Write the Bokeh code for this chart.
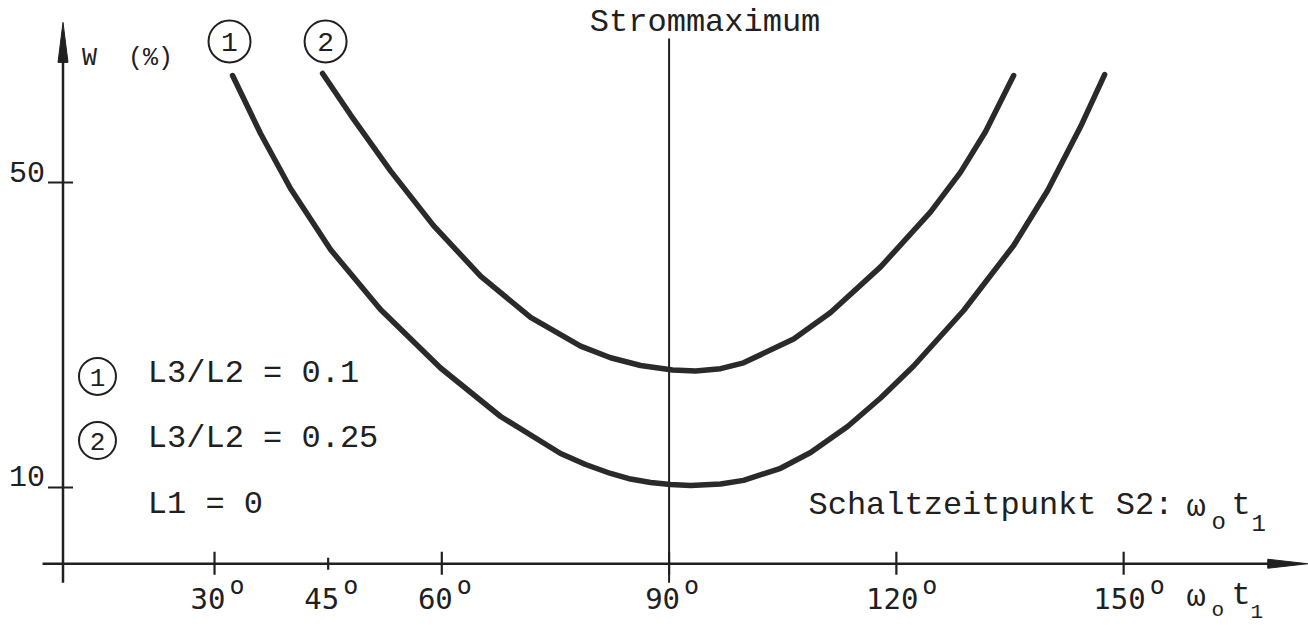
from bokeh.plotting import figure
from bokeh.models import Range1d
from bokeh.core.properties import value
from bokeh.embed import file_html
from bokeh.resources import INLINE

# --- data -------------------------------------------------------------
x_ticks = [30, 45, 60, 90, 120, 150]
x_tick_labels = ["30", "45", "60", "90", "120", "150"]
y_ticks = [50, 10]
y_tick_labels = ["50", "10"]

# curve (1): L3/L2 = 0.1  -- switching instant (deg) vs. W (%)
curve1_deg = [32.38, 36.07, 40.03, 45.31, 51.91, 59.84, 67.76, 75.68, 78.98,
              82.28, 84.92, 87.56, 90.20, 92.84, 96.80, 99.83, 104.72, 108.68,
              113.56, 117.92, 122.28, 128.88, 135.48, 139.97, 144.32, 147.49]
curve1_w = [64.03, 56.43, 49.21, 41.21, 33.34, 25.67, 19.31, 14.46, 13.02,
            11.84, 11.11, 10.66, 10.39, 10.26, 10.45, 10.93, 12.52, 14.59,
            18.00, 21.74, 25.93, 33.21, 41.74, 48.95, 57.34, 64.16]

# curve (2): L3/L2 = 0.25
curve2_deg = [44.26, 47.95, 53.23, 58.91, 65.12, 71.72, 78.32, 82.28, 86.24,
              90.46, 93.50, 96.80, 99.83, 106.44, 111.32, 117.92, 124.52,
              128.48, 131.78, 135.48]
curve2_w = [64.30, 58.88, 51.53, 44.35, 37.72, 32.31, 28.54, 27.02, 26.00,
            25.41, 25.29, 25.58, 26.35, 29.48, 32.96, 38.93, 46.14,
            51.36, 56.69, 64.03]

curve_ids = ["1", "2"]
legend_labels = ["L3/L2 = 0.1", "L3/L2 = 0.25", "L1 = 0"]

# --- layout -----------------------------------------------------------
W_PX, H_PX = 1308, 625
X_MIN, X_MAX = 1.75, 174.4
Y_MIN, Y_MAX = -8.1, 73.87
SX = W_PX / (X_MAX - X_MIN)   # pixels per degree
SY = H_PX / (Y_MAX - Y_MIN)   # pixels per percent


def dx(px):
    return px / SX


def dy(px):
    return px / SY


INK = "#202020"
CURVE = "#2a2a2a"
MONO = value("Liberation Mono")
SANS_MONO = value("DejaVu Sans Mono")

Y_AXIS_AT = 10.0
X_AXIS_START = 7.3
X_AXIS_END = 174.3
Y_AXIS_BOTTOM = -2.5
Y_AXIS_TOP = 71.0

p = figure(width=W_PX, height=H_PX,
           x_range=Range1d(X_MIN, X_MAX), y_range=Range1d(Y_MIN, Y_MAX),
           output_backend="svg", toolbar_location=None, min_border=0,
           x_axis_location=None, y_axis_location=None)
p.grid.visible = False
p.outline_line_color = None
p.background_fill_color = "white"
p.border_fill_color = "white"


def label(x, y, text, font=MONO, size="32px", align="left", xo=0, yo=0):
    p.text(x=x, y=y, text=text, text_font=font, text_font_size=size,
           text_color=INK, text_align=align, text_baseline="middle",
           x_offset=xo, y_offset=yo)


# --- axes with long arrow heads ---------------------------------------
head_len = 40
p.segment(x0=[Y_AXIS_AT], y0=[Y_AXIS_BOTTOM], x1=[Y_AXIS_AT],
          y1=[Y_AXIS_TOP - dy(head_len - 4)], line_color=INK, line_width=2.5)
p.patch([Y_AXIS_AT - dx(5), Y_AXIS_AT, Y_AXIS_AT + dx(5)],
        [Y_AXIS_TOP - dy(head_len), Y_AXIS_TOP, Y_AXIS_TOP - dy(head_len)],
        color=INK, line_width=1)

p.segment(x0=[X_AXIS_START], y0=[0], x1=[X_AXIS_END - dx(head_len - 4)], y1=[0],
          line_color=INK, line_width=2.5)
p.patch([X_AXIS_END - dx(head_len), X_AXIS_END, X_AXIS_END - dx(head_len)],
        [dy(4.5), 0, -dy(4.5)], color=INK, line_width=1)

# y ticks and labels (labels sit just above the tick)
p.segment(x0=[Y_AXIS_AT - dx(15)] * len(y_ticks), y0=y_ticks,
          x1=[Y_AXIS_AT + dx(10)] * len(y_ticks), y1=y_ticks,
          line_color=INK, line_width=2.2)
label([Y_AXIS_AT] * len(y_ticks), y_ticks, y_tick_labels, size="30px",
      align="right", xo=-18, yo=-11)

# x ticks and labels (the 45 degree mark is drawn shorter)
tick_up = [12 if t != 45 else 6 for t in x_ticks]
tick_dn = [11 if t != 45 else 6 for t in x_ticks]
p.segment(x0=x_ticks, y0=[dy(u) for u in tick_up],
          x1=x_ticks, y1=[-dy(d) for d in tick_dn],
          line_color=INK, line_width=2.2)
right_edge = [11 if len(s) == 2 else 22 for s in x_tick_labels]
label(x_ticks, [0] * len(x_ticks), x_tick_labels, font=SANS_MONO,
      size="29px", align="right", xo=right_edge, yo=35)
label(x_ticks, [0] * len(x_ticks), ["o"] * len(x_ticks), font=SANS_MONO,
      size="25px", align="left", xo=[r + 4 for r in right_edge], yo=22)

# y axis title
label([Y_AXIS_AT], [66.26], ["W"], size="25px", xo=19)
label([Y_AXIS_AT], [66.26], ["(%)"], size="25px", xo=65)


def omega_t1(x, y, size_main, size_sub, offsets, sub_drop):
    """omega_o t_1 built from main glyphs and lowered subscripts."""
    parts = [("\u03c9", size_main, offsets[0], 2),
             ("o", size_sub, offsets[1], sub_drop),
             ("t", size_main, offsets[2], 0),
             ("1", size_sub, offsets[3], sub_drop + 1)]
    for txt, size, xo, yo in parts:
        label([x], [y], [txt], size=size, xo=xo, yo=yo)


label([108.4], [7.64], ["Schaltzeitpunkt S2:"], size="32px")
omega_t1(108.4, 7.64, "32px", "24px", [378, 403, 423, 443], 17)
omega_t1(158.3, -4.2, "32px", "21px", [0, 25, 45, 64], 15)

# current maximum marker
p.segment(x0=[90], y0=[Y_AXIS_BOTTOM], x1=[90], y1=[68.9],
          line_color=INK, line_width=2)
label([90], [70.98], ["Strommaximum"], size="32px", align="center", xo=36)

# --- curves -----------------------------------------------------------
for xs, ys in [(curve1_deg, curve1_w), (curve2_deg, curve2_w)]:
    p.line(xs, ys, line_color=CURVE, line_width=5.5,
           line_join="round", line_cap="round")

# circled curve numbers above the curve ends
top_x = [curve1_deg[0] - 0.4, curve2_deg[0] + 0.4]
top_y = [68.5, 68.5]
p.scatter(top_x, top_y, marker="circle", size=42, fill_color=None,
          line_color=INK, line_width=2)
label(top_x, top_y, curve_ids, size="28px", align="center", yo=1)

# --- legend -----------------------------------------------------------
leg_x = 14.55
leg_y = [24.56, 16.16]
p.scatter([leg_x] * 2, leg_y, marker="circle", size=37, fill_color=None,
          line_color=INK, line_width=2)
label([leg_x] * 2, leg_y, curve_ids, size="26px", align="center", yo=1)
label([21.2] * 3, [24.95, 16.43, 7.77], legend_labels, size="32px")

open("out.html", "w").write(file_html(p, INLINE))
